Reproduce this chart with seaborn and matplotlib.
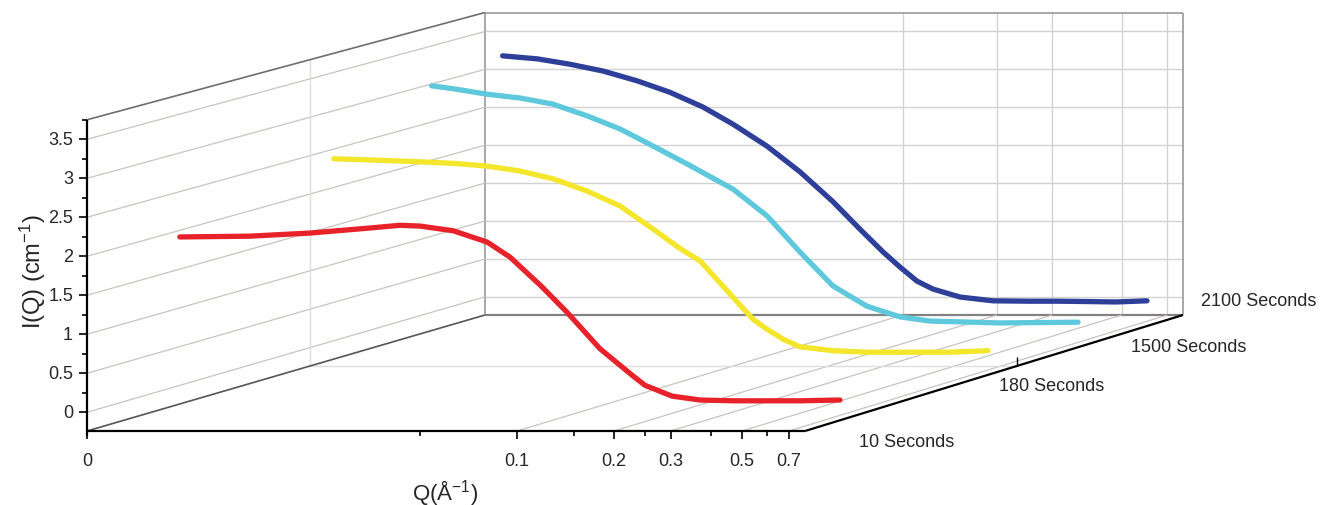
import numpy as np
import pandas as pd
import matplotlib
matplotlib.use("Agg")
import matplotlib.pyplot as plt
import seaborn as sns

# SAXS curves, one per time step
times = ["10 Seconds", "180 Seconds", "1500 Seconds", "2100 Seconds"]
colors = ["#e8222a", "#f3e62b", "#5ec8dc", "#2e3f9a"]

q_10s = [0.0057, 0.0094, 0.0145, 0.0223, 0.0277, 0.032, 0.0406, 0.0518, 0.0611,
         0.0763, 0.092, 0.1166, 0.1478, 0.161, 0.1956, 0.2391, 0.3031, 0.4905, 0.6535]
i_10s = [2.02, 2.03, 2.07, 2.135, 2.17, 2.16, 2.10, 1.955, 1.76,
         1.39, 1.05, 0.58, 0.23, 0.11, -0.03, -0.08, -0.09, -0.09, -0.08]

q_180s = [0.0055, 0.0077, 0.0103, 0.0131, 0.0167, 0.0213, 0.027, 0.0346, 0.044,
          0.0559, 0.0681, 0.0787, 0.0978, 0.1156, 0.128, 0.1438, 0.1627, 0.2067,
          0.2647, 0.4837, 0.6375]
i_180s = [2.46, 2.44, 2.42, 2.40, 2.365, 2.30, 2.20, 2.04, 1.845,
          1.545, 1.29, 1.13, 0.70, 0.37, 0.24, 0.11, 0.01, -0.04,
          -0.06, -0.06, -0.04]

q_1500s = [0.0056, 0.0066, 0.0084, 0.0107, 0.0136, 0.0175, 0.0222, 0.0283, 0.0363,
           0.0508, 0.0651, 0.0829, 0.1055, 0.1353, 0.1722, 0.2145, 0.358,
           0.6335]
i_1500s = [3.07, 3.03, 2.96, 2.91, 2.83, 2.675, 2.505, 2.28, 2.045,
           1.715, 1.365, 0.89, 0.445, 0.18, 0.04, -0.015, -0.04,
           -0.03]

q_2100s = [0.0055, 0.0071, 0.009, 0.0115, 0.0148, 0.0188, 0.024, 0.0299, 0.0384,
           0.049, 0.0625, 0.0761, 0.0902, 0.1022, 0.1158, 0.1302, 0.1589, 0.2025,
           0.2659, 0.329, 0.4132, 0.5003, 0.6285]
i_2100s = [3.20, 3.16, 3.09, 3.00, 2.87, 2.72, 2.525, 2.30, 2.01,
           1.67, 1.275, 0.915, 0.615, 0.415, 0.23, 0.125, 0.02, -0.03,
           -0.035, -0.035, -0.04, -0.045, -0.03]

x_major = [0.1, 0.2, 0.3, 0.5, 0.7]
x_minor = [0.05, 0.15, 0.25, 0.4, 0.6]
y_major = [0, 0.5, 1, 1.5, 2, 2.5, 3, 3.5]
y_minor = [0.25, 0.75, 1.25, 1.75, 2.25, 2.75, 3.25, 3.75]

# layout of the 3d box: depth 0 = front face, 1 = back wall
depths = [0.16, 0.56, 0.80, 0.985]
depth_grid = 0.56
label_offsets = [(-5, -21), (-13, -14), (17, -6), (17, 12)]  # points

Q_LEFT, Q_RIGHT = -2.335, -0.105  # log10 Q at box edges (left edge labelled 0)
I_BOTTOM, I_TOP = -0.24, 3.75
DX, DY = 1.236, 1.487  # shift of the back wall
SHRINK = 0.028  # back wall is a bit smaller


def proj(lq, i, d):
    s = 1 - SHRINK * np.asarray(d, float)
    x = Q_LEFT + DX * d + s * (np.asarray(lq, float) - Q_LEFT)
    y = I_BOTTOM + DY * d + s * (np.asarray(i, float) - I_BOTTOM)
    return x, y


def seg(ax, a, b, **kw):
    x0, y0 = proj(*a)
    x1, y1 = proj(*b)
    ax.plot([x0, x1], [y0, y1], solid_capstyle="butt", **kw)


sns.set_style("white")
plt.rcParams["font.family"] = ["Liberation Sans", "DejaVu Sans"]
plt.rcParams["mathtext.default"] = "regular"

fig = plt.figure(figsize=(13.26, 5.06), dpi=100)
ax = fig.add_axes([0, 0, 1, 1])
ax.set_xlim(Q_LEFT - 87 / 322, Q_LEFT + (1326 - 87) / 322)
ax.set_ylim(I_BOTTOM - 74 / 78, I_BOTTOM + 432 / 78)
ax.axis("off")

grid_back = dict(color="#d2d2d2", lw=1.0, zorder=1)
grid_side = dict(color="#cbc3bd", lw=0.9, zorder=1)

# back wall
for v in y_major:
    seg(ax, (Q_LEFT, v, 1), (Q_RIGHT, v, 1), **grid_back)
for q in x_major:
    seg(ax, (np.log10(q), I_BOTTOM, 1), (np.log10(q), I_TOP, 1), **grid_back)
seg(ax, (Q_LEFT, I_TOP, 1), (Q_RIGHT, I_TOP, 1), color="#9a9a9a", lw=1.2, zorder=1)
seg(ax, (Q_LEFT, I_BOTTOM, 1), (Q_LEFT, I_TOP, 1), color="#9a9a9a", lw=1.2, zorder=1)
seg(ax, (Q_RIGHT, I_BOTTOM, 1), (Q_RIGHT, I_TOP, 1), color="#9a9a9a", lw=1.2, zorder=1)
seg(ax, (Q_LEFT, I_BOTTOM, 1), (Q_RIGHT, I_BOTTOM, 1), color="#828282", lw=1.6, zorder=1)

# left wall and floor
for v in y_major:
    seg(ax, (Q_LEFT, v, 0), (Q_LEFT, v, 1), **grid_side)
for q in x_major:
    seg(ax, (np.log10(q), I_BOTTOM, 0), (np.log10(q), I_BOTTOM, 1), **grid_side)
seg(ax, (Q_LEFT, I_BOTTOM, depth_grid), (Q_LEFT, I_TOP, depth_grid), color="#dedede", lw=1.0, zorder=1)
seg(ax, (Q_LEFT, I_BOTTOM, depth_grid), (Q_RIGHT, I_BOTTOM, depth_grid), color="#dedede", lw=1.0, zorder=1)
seg(ax, (Q_LEFT, I_TOP, 0), (Q_LEFT, I_TOP, 1), color="#6e6e6e", lw=1.2, zorder=1)
seg(ax, (Q_LEFT, I_BOTTOM, 0), (Q_LEFT, I_BOTTOM, 1), color="#555555", lw=1.2, zorder=1)

# axes
seg(ax, (Q_LEFT, I_BOTTOM, 0), (Q_RIGHT, I_BOTTOM, 0), color="black", lw=1.6, zorder=3)
seg(ax, (Q_LEFT, I_BOTTOM - 0.06, 0), (Q_LEFT, I_TOP, 0), color="black", lw=1.6, zorder=3)
seg(ax, (Q_RIGHT, I_BOTTOM, 0), (Q_RIGHT, I_BOTTOM, 1), color="black", lw=1.6, zorder=3)
seg(ax, (Q_RIGHT, I_BOTTOM, depth_grid), (Q_RIGHT, I_BOTTOM + 0.115, depth_grid), color="black", lw=1.0, zorder=3)

tick_kw = dict(color="black", lw=1.2, zorder=3)
for v in y_major:
    seg(ax, (Q_LEFT - 0.025, v, 0), (Q_LEFT, v, 0), **tick_kw)
for v in y_minor:
    seg(ax, (Q_LEFT - 0.014, v, 0), (Q_LEFT, v, 0), **tick_kw)
for lq in [Q_LEFT] + list(np.log10(x_major)):
    seg(ax, (lq, I_BOTTOM - 0.10, 0), (lq, I_BOTTOM, 0), **tick_kw)
for q in x_minor:
    seg(ax, (np.log10(q), I_BOTTOM - 0.06, 0), (np.log10(q), I_BOTTOM, 0), **tick_kw)

# curves
frames = []
for name, qs, iv, d in zip(times, [q_10s, q_180s, q_1500s, q_2100s],
                           [i_10s, i_180s, i_1500s, i_2100s], depths):
    df = pd.DataFrame({"time": name, "Q": qs, "I": iv})
    df["px"], df["py"] = proj(np.log10(df["Q"]), df["I"], d)
    frames.append(df)
data = pd.concat(frames, ignore_index=True)

sns.lineplot(data=data, x="px", y="py", hue="time", palette=dict(zip(times, colors)),
             estimator=None, sort=False, linewidth=3.8, legend=False, ax=ax,
             zorder=4, solid_capstyle="round", solid_joinstyle="round")

# text
fs = 13
for v in y_major:
    x, y = proj(Q_LEFT, v, 0)
    ax.annotate(f"{v:g}", (x, y), xytext=(-10, 0), textcoords="offset points",
                ha="right", va="center", fontsize=fs)
x, y = proj(Q_LEFT, I_BOTTOM, 0)
ax.annotate("0", (x, y), xytext=(0, -15), textcoords="offset points",
            ha="center", va="top", fontsize=fs)
for q in x_major:
    x, y = proj(np.log10(q), I_BOTTOM, 0)
    ax.annotate(f"{q:g}", (x, y), xytext=(0, -15), textcoords="offset points",
                ha="center", va="top", fontsize=fs)
for name, d, off in zip(times, depths, label_offsets):
    x, y = proj(Q_RIGHT, I_BOTTOM, d)
    ax.annotate(name, (x, y), xytext=off, textcoords="offset points",
                ha="left", va="center", fontsize=fs)

fig.text(445 / 1326, 1 - 493 / 506, "Q(Å$^{-1}$)", ha="center", va="center", fontsize=16)
fig.text(33 / 1326, 1 - 272 / 506, "I(Q) (cm$^{-1}$)", ha="center", va="center",
         rotation=90, fontsize=17)

fig.savefig("out.png", dpi=100)
